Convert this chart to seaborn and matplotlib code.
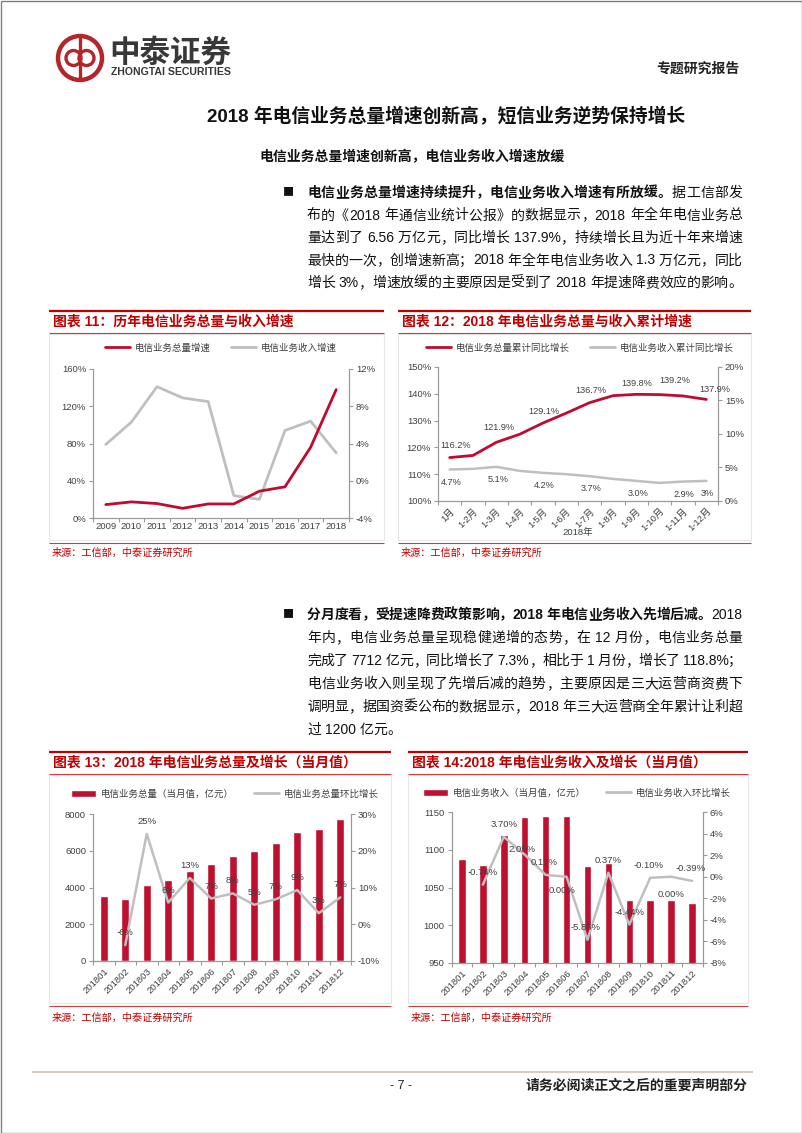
import re
import numpy as np
import matplotlib
matplotlib.use("Agg")
import matplotlib.pyplot as plt
import seaborn as sns
from matplotlib.patches import Rectangle, Circle, Patch
from matplotlib.lines import Line2D
from matplotlib.legend import Legend
from matplotlib.ticker import FuncFormatter

# ---------------- data ----------------
years = ["2009", "2010", "2011", "2012", "2013", "2014", "2015", "2016", "2017", "2018"]
volume_growth_yearly = [14.4, 17.3, 15.5, 10.4, 15.1, 15.1, 28.8, 33.5, 75.9, 137.9]
revenue_growth_yearly = [3.9, 6.3, 10.1, 8.9, 8.5, -1.6, -2.0, 5.4, 6.4, 3.0]

cum_months = ["1月", "1-2月", "1-3月", "1-4月", "1-5月", "1-6月", "1-7月", "1-8月",
              "1-9月", "1-10月", "1-11月", "1-12月"]
cum_volume_growth = [116.2, 117.0, 121.9, 124.9, 129.1, 132.8, 136.7, 139.3, 139.8, 139.7, 139.2, 137.9]
cum_revenue_growth = [4.7, 4.8, 5.1, 4.5, 4.2, 4.0, 3.7, 3.3, 3.0, 2.7, 2.9, 3.0]
cum_label_idx = [0, 2, 4, 6, 8, 10, 11]
cum_volume_labels = ["116.2%", "121.9%", "129.1%", "136.7%", "139.8%", "139.2%", "137.9%"]
cum_revenue_labels = ["4.7%", "5.1%", "4.2%", "3.7%", "3.0%", "2.9%", "3%"]

months = ["201801", "201802", "201803", "201804", "201805", "201806",
          "201807", "201808", "201809", "201810", "201811", "201812"]
monthly_volume = [3517, 3353, 4136, 4391, 4920, 5266, 5703, 5995, 6414, 6997, 7198, 7712]
volume_mom = [-5.7, 24.6, 5.9, 12.6, 7.0, 8.4, 5.3, 6.8, 9.3, 3.0, 7.3]          # 201802..201812
volume_mom_labels = ["-6%", "25%", "6%", "13%", "7%", "8%", "5%", "7%", "9%", "3%", "7%"]
monthly_revenue = [1088, 1080, 1120, 1143, 1145, 1145, 1078, 1082, 1034, 1033, 1033, 1029]
revenue_mom = [-0.74, 3.70, 2.05, 0.17, 0.00, -5.85, 0.37, -4.44, -0.10, 0.00, -0.39]  # 201802..201812
revenue_mom_labels = ["-0.74%", "3.70%", "2.05%", "0.17%", "0.00%", "-5.85%", "0.37%",
                      "-4.44%", "-0.10%", "0.00%", "-0.39%"]

# ---------------- style ----------------
sns.set_style("ticks")
plt.rcParams["font.family"] = ["Liberation Sans", "Noto Sans CJK SC"]
plt.rcParams["axes.unicode_minus"] = False

RED = "#C00A32"
BAR_RED = "#C0102F"
TITLE_RED = "#C00000"
GRAY = "#BFBFBF"
AXIS = "#9A9A9A"
TXT = "#404040"
FS = 6.8

W, H = 802, 1133
fig = plt.figure(figsize=(W / 100, H / 100), dpi=100)
fig.patch.set_facecolor("white")
ov = fig.add_axes([0, 0, 1, 1])
ov.set_xlim(0, W)
ov.set_ylim(H, 0)
ov.axis("off")
renderer = fig.canvas.get_renderer()


def px_rect(x0, y0, x1, y1):
    return [x0 / W, 1 - y1 / H, (x1 - x0) / W, (y1 - y0) / H]


def hline(y, x0, x1, color, lw):
    ov.plot([x0, x1], [y, y], color=color, lw=lw, solid_capstyle="butt", clip_on=False)


# page frame
ov.add_patch(Rectangle((0.5, 0.5), W - 1, H - 1, fill=False, ec="#808080", lw=1, clip_on=False))

# logo
LOGO_RED = "#B3262B"
ov.add_patch(Circle((80, 58), 22, fill=False, ec=LOGO_RED, lw=3.2))
ov.add_patch(Circle((73.5, 58), 7.5, fill=False, ec=LOGO_RED, lw=2.4))
ov.add_patch(Circle((86.5, 58), 7.5, fill=False, ec=LOGO_RED, lw=2.4))
ov.plot([80, 80], [38, 78], color=LOGO_RED, lw=2.4)
ov.text(109, 53, "中泰证券", fontsize=22, fontweight="bold", color="#383838",
        ha="left", va="center", family=["Noto Sans CJK SC"])
ov.text(111, 72, "ZHONGTAI SECURITIES", fontsize=7.6, fontweight="bold", color="#383838",
        ha="left", va="center")
ov.text(740, 69, "专题研究报告", fontsize=10, fontweight="bold", color="#222222",
        ha="right", va="center", family=["Noto Sans CJK SC"])

# headings
ov.text(446, 117, "2018 年电信业务总量增速创新高，短信业务逆势保持增长", fontsize=13.5,
        fontweight="bold", color="#111111", ha="center", va="center")
ov.text(412, 157, "电信业务总量增速创新高，电信业务收入增速放缓", fontsize=10,
        fontweight="bold", color="#111111", ha="center", va="center")


def tokens(s):
    return re.findall(r"[A-Za-z0-9.%]+|\s+|.", s)


def justify_line(y, segs, x0=307, x1=742, fs=10, justify=True):
    items = []
    for text, bold in segs:
        for tok in tokens(text):
            items.append((tok, bold))
    fs_px = fs * 100 / 72
    base = y + 0.36 * fs_px
    arts, widths = [], []
    for tok, bold in items:
        if tok.isspace():
            arts.append(None)
            widths.append(fs_px * 0.28)
        else:
            t = ov.text(0, base, tok, fontsize=fs, fontweight="bold" if bold else "normal",
                        color="#111111", ha="left", va="baseline")
            arts.append(t)
            widths.append(t.get_window_extent(renderer).width)
    n = len(items)
    gap = (x1 - x0 - sum(widths)) / (n - 1) if (justify and n > 1) else 0
    x = x0
    for a, w in zip(arts, widths):
        if a is not None:
            a.set_x(x)
        x += w + gap


para1 = [
    [("电信业务总量增速持续提升，电信业务收入增速有所放缓。", True), ("据工信部发", False)],
    [("布的《2018 年通信业统计公报》的数据显示，2018 年全年电信业务总", False)],
    [("量达到了 6.56 万亿元，同比增长 137.9%，持续增长且为近十年来增速", False)],
    [("最快的一次，创增速新高；2018 年全年电信业务收入 1.3 万亿元，同比", False)],
    [("增长 3%，增速放缓的主要原因是受到了 2018 年提速降费效应的影响。", False)],
]
para2 = [
    [("分月度看，受提速降费政策影响，2018 年电信业务收入先增后减。", True), ("2018", False)],
    [("年内，电信业务总量呈现稳健递增的态势，在 12 月份，电信业务总量", False)],
    [("完成了 7712 亿元，同比增长了 7.3%，相比于 1 月份，增长了 118.8%；", False)],
    [("电信业务收入则呈现了先增后减的趋势，主要原因是三大运营商资费下", False)],
    [("调明显，据国资委公布的数据显示，2018 年三大运营商全年累计让利超", False)],
    [("过 1200 亿元。", False)],
]


def paragraph(lines, y0, step):
    ov.text(283, y0, "■", fontsize=8, color="#111111", ha="left", va="center",
            family=["Noto Sans CJK SC"])
    for i, segs in enumerate(lines):
        justify_line(y0 + i * step, segs, justify=(i < len(lines) - 1 or len(lines) == 5))


paragraph(para1, 192, 22.5)
paragraph(para2, 614, 23)


# chart frames
def chart_frame(x0, x1, y_top, y_bottom, title, src_y):
    hline(y_top, x0, x1, TITLE_RED, 1.6)
    ov.text(x0 + 4, y_top + 11, title, fontsize=10, fontweight="bold", color=TITLE_RED,
            ha="left", va="center")
    hline(y_top + 22, x0, x1, "#D23C3C", 0.8)
    ov.add_patch(Rectangle((x0, y_top + 23), x1 - x0, y_bottom - y_top - 26, fill=False,
                           ec="#E6E6E6", lw=0.8))
    hline(y_bottom, x0, x1, "#D23C3C", 0.8)
    ov.text(x0 + 3, src_y, "来源：工信部，中泰证券研究所", fontsize=7.3, color="#C00000",
            ha="left", va="center")


chart_frame(49, 384, 311, 543, "图表 11：历年电信业务总量与收入增速", 553)
chart_frame(398, 751, 311, 543, "图表 12：2018 年电信业务总量与收入累计增速", 553)
chart_frame(49, 391, 752, 1006, "图表 13：2018 年电信业务总量及增长（当月值）", 1018)
chart_frame(408, 748, 752, 1006, "图表 14:2018 年电信业务收入及增长（当月值）", 1018)

# footer
hline(1072, 32, 753, "#D8CCBC", 1.5)
ov.text(401, 1086, "- 7 -", fontsize=9, color="#222222", ha="center", va="center")
ov.text(748, 1086, "请务必阅读正文之后的重要声明部分", fontsize=10, fontweight="bold",
        color="#222222", ha="right", va="center", family=["Noto Sans CJK SC"])


# ---------------- helpers ----------------
def pct_fmt(v, _):
    return f"{v:.0f}%"


def style_pair(ax, ax2):
    for a in (ax, ax2):
        a.set_facecolor("none")
        a.spines["top"].set_visible(False)
        for s in ("left", "right", "bottom"):
            a.spines[s].set_color(AXIS)
            a.spines[s].set_linewidth(0.8)
        a.tick_params(axis="y", length=3, width=0.8, color=AXIS, labelsize=FS,
                      labelcolor=TXT, pad=2)
        a.set_xlabel("")
        a.set_ylabel("")
        a.grid(False)


def cat_xaxis(ax, labels, rotate=False):
    n = len(labels)
    ax.set_xlim(-0.5, n - 0.5)
    ax.set_xticks(np.arange(n))
    ax.set_xticklabels(labels)
    ax.set_xticks(np.arange(-0.5, n), minor=True)
    ax.tick_params(axis="x", which="major", length=0, labelsize=FS, labelcolor=TXT,
                   pad=4 if rotate else 3)
    ax.tick_params(axis="x", which="minor", length=3, width=0.8, color=AXIS)
    if rotate:
        for t in ax.get_xticklabels():
            t.set_rotation(45)
            t.set_ha("right")
            t.set_rotation_mode("anchor")


def add_legend(handles, labels, cx, cy):
    leg = Legend(ov, handles, labels, loc="center", bbox_to_anchor=(cx, cy),
                 bbox_transform=ov.transData, ncol=2, frameon=False, fontsize=FS,
                 handlelength=2.6, handletextpad=0.5, columnspacing=2.2)
    for t in leg.get_texts():
        t.set_color(TXT)
    ov.add_artist(leg)


# ---------------- chart 11 ----------------
ax = fig.add_axes(px_rect(93, 369, 349, 518))
ax2 = ax.twinx()
x11 = np.arange(len(years))
sns.lineplot(x=x11, y=revenue_growth_yearly, color=GRAY, lw=2.0, ax=ax2)
sns.lineplot(x=x11, y=volume_growth_yearly, color=RED, lw=2.0, ax=ax)
ax.set_zorder(ax2.get_zorder() + 1)
style_pair(ax, ax2)
ax.set_ylim(0, 160)
ax.set_yticks(np.arange(0, 161, 40))
ax.yaxis.set_major_formatter(FuncFormatter(pct_fmt))
ax2.set_ylim(-4, 12)
ax2.set_yticks(np.arange(-4, 13, 4))
ax2.yaxis.set_major_formatter(FuncFormatter(pct_fmt))
cat_xaxis(ax, years)
add_legend([Line2D([], [], color=RED, lw=2), Line2D([], [], color=GRAY, lw=2)],
           ["电信业务总量增速", "电信业务收入增速"], 221, 348)

# ---------------- chart 12 ----------------
ax = fig.add_axes(px_rect(438, 367, 718, 501))
ax2 = ax.twinx()
x12 = np.arange(len(cum_months))
sns.lineplot(x=x12, y=cum_revenue_growth, color=GRAY, lw=1.8, ax=ax2)
sns.lineplot(x=x12, y=cum_volume_growth, color=RED, lw=2.0, ax=ax)
ax.set_zorder(ax2.get_zorder() + 1)
style_pair(ax, ax2)
ax.set_ylim(100, 150)
ax.set_yticks(np.arange(100, 151, 10))
ax.yaxis.set_major_formatter(FuncFormatter(pct_fmt))
ax2.set_ylim(0, 20)
ax2.set_yticks(np.arange(0, 21, 5))
ax2.yaxis.set_major_formatter(FuncFormatter(pct_fmt))
cat_xaxis(ax, cum_months, rotate=True)
vol_dx12 = [4, 2, 1, 1, 0, -6, 6]
vol_dy12 = [9, 11, 8, 9, 8, 11, 7]
for i, lab, dx, dy in zip(cum_label_idx, cum_volume_labels, vol_dx12, vol_dy12):
    ax.annotate(lab, (x12[i], cum_volume_growth[i]), xytext=(dx, dy), textcoords="offset points",
                ha="center", va="center", fontsize=6.6, color=TXT)
for i, lab in zip(cum_label_idx, cum_revenue_labels):
    ax2.annotate(lab, (x12[i], cum_revenue_growth[i]), xytext=(1, -9), textcoords="offset points",
                 ha="center", va="center", fontsize=6.6, color=TXT)
ov.text(578, 533, "2018年", fontsize=FS, color=TXT, ha="center", va="center")
add_legend([Line2D([], [], color=RED, lw=2), Line2D([], [], color=GRAY, lw=2)],
           ["电信业务总量累计同比增长", "电信业务收入累计同比增长"], 580, 348)

# ---------------- chart 13 ----------------
ax = fig.add_axes(px_rect(93, 814, 351, 961))
sns.barplot(x=months, y=monthly_volume, color=BAR_RED, saturation=1, width=0.36, ax=ax)
ax2 = ax.twinx()
x13 = np.arange(1, len(months))
sns.lineplot(x=x13, y=volume_mom, color=GRAY, lw=1.8, ax=ax2)
style_pair(ax, ax2)
ax.set_ylim(0, 8000)
ax.set_yticks(np.arange(0, 8001, 2000))
ax2.set_ylim(-10, 30)
ax2.set_yticks(np.arange(-10, 31, 10))
ax2.yaxis.set_major_formatter(FuncFormatter(pct_fmt))
cat_xaxis(ax, months, rotate=True)
for xi, v, lab in zip(x13, volume_mom, volume_mom_labels):
    ax2.annotate(lab, (xi, v), xytext=(0, 9), textcoords="offset points",
                 ha="center", va="center", fontsize=FS, color=TXT)
add_legend([Patch(facecolor=BAR_RED), Line2D([], [], color=GRAY, lw=2)],
           ["电信业务总量（当月值，亿元）", "电信业务总量环比增长"], 225, 794)

# ---------------- chart 14 ----------------
ax = fig.add_axes(px_rect(451.5, 812, 702.5, 963))
sns.barplot(x=months, y=monthly_revenue, color=BAR_RED, saturation=1, width=0.36, ax=ax)
ax2 = ax.twinx()
x14 = np.arange(1, len(months))
sns.lineplot(x=x14, y=revenue_mom, color=GRAY, lw=1.8, ax=ax2)
style_pair(ax, ax2)
ax.set_ylim(950, 1150)
ax.set_yticks(np.arange(950, 1151, 50))
ax2.set_ylim(-8, 6)
ax2.set_yticks(np.arange(-8, 7, 2))
ax2.yaxis.set_major_formatter(FuncFormatter(pct_fmt))
cat_xaxis(ax, months, rotate=True)
label_dy14 = [9, 9, 4, 9, -10, 9, 9, 9, 9, -13, 9]
label_dx14 = [0, 0, -2, -1, -3, -1, 0, 0, -1, 0, -1]
for xi, v, lab, dx, dy in zip(x14, revenue_mom, revenue_mom_labels, label_dx14, label_dy14):
    ax2.annotate(lab, (xi, v), xytext=(dx, dy), textcoords="offset points",
                 ha="center", va="center", fontsize=FS, color=TXT)
add_legend([Patch(facecolor=BAR_RED), Line2D([], [], color=GRAY, lw=2)],
           ["电信业务收入（当月值，亿元）", "电信业务收入环比增长"], 577, 793)

fig.savefig("out.png", dpi=100, facecolor="white")
